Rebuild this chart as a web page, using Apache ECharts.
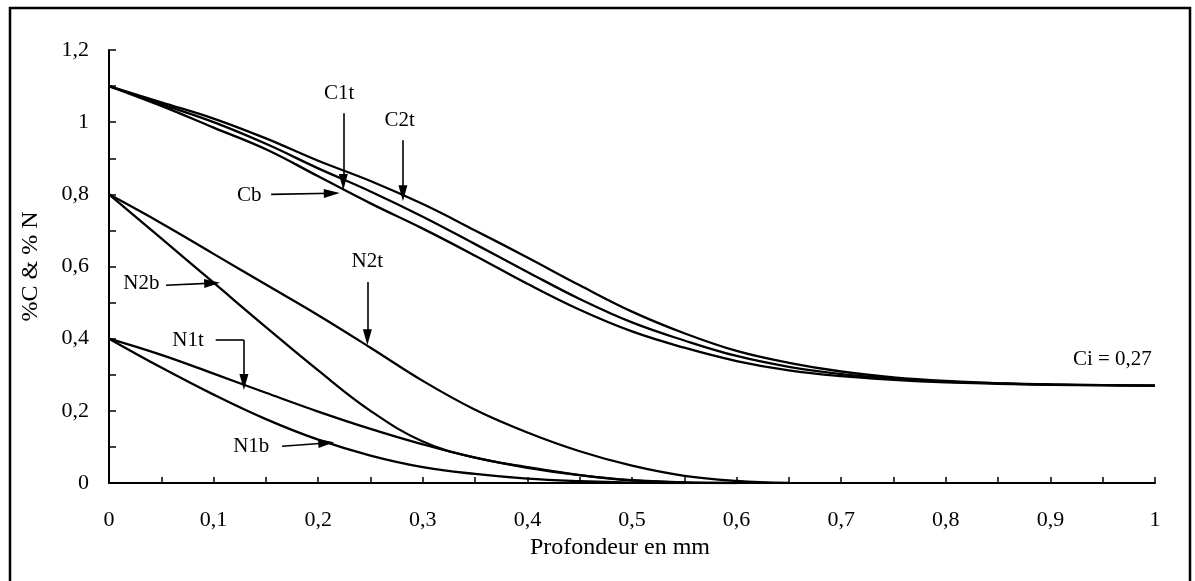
<!DOCTYPE html>
<html>
<head>
<meta charset="utf-8">
<script src="https://cdn.jsdelivr.net/npm/echarts@6/dist/echarts.min.js"></script>
<style>
  html, body { margin: 0; padding: 0; background: #fff; }
  #chart { width: 1195px; height: 581px; }
</style>
</head>
<body>
<div id="chart"></div>
<script>
// profondeur (mm)
const depth = [0, 0.05, 0.1, 0.15, 0.2, 0.25, 0.3, 0.35, 0.4, 0.45, 0.5,
  0.55, 0.6, 0.65, 0.7, 0.75, 0.8, 0.85, 0.9, 0.95, 1];

// carbone
const c2t = [1.1, 1.055, 1.01, 0.955, 0.893, 0.837, 0.773, 0.7, 0.625, 0.548, 0.475,
  0.415, 0.366, 0.333, 0.309, 0.293, 0.283, 0.277, 0.273, 0.271, 0.27];
const c1t = [1.1, 1.05, 1.0, 0.94, 0.872, 0.808, 0.738, 0.662, 0.585, 0.51, 0.445,
  0.395, 0.352, 0.322, 0.302, 0.29, 0.281, 0.276, 0.273, 0.271, 0.27];
const cb = [1.1, 1.045, 0.985, 0.925, 0.85, 0.775, 0.705, 0.63, 0.552, 0.48, 0.42,
  0.375, 0.338, 0.312, 0.296, 0.286, 0.279, 0.275, 0.272, 0.271, 0.27];

// azote
const n2t = [0.8, 0.72, 0.635, 0.55, 0.465, 0.375, 0.283, 0.203, 0.14, 0.088, 0.048,
  0.02, 0.006, 0, null, null, null, null, null, null, null];
const n2b = [0.8, 0.678, 0.555, 0.432, 0.312, 0.2, 0.115, 0.07, 0.044, 0.022, 0.007,
  0.001, 0, null, null, null, null, null, null, null, null];
const n1t = [0.4, 0.355, 0.303, 0.25, 0.198, 0.15, 0.107, 0.07, 0.042, 0.022, 0.008,
  0.002, 0, null, null, null, null, null, null, null, null];
const n1b = [0.4, 0.32, 0.245, 0.177, 0.12, 0.076, 0.044, 0.025, 0.012, 0.005, 0.001,
  0, null, null, null, null, null, null, null, null, null];

const xTicks = ['0', '0,1', '0,2', '0,3', '0,4', '0,5', '0,6', '0,7', '0,8', '0,9', '1'];
const yTicks = ['0', '0,2', '0,4', '0,6', '0,8', '1', '1,2'];

// étiquettes des courbes (position en unités des axes)
const labels = [
  { name: 'C1t', value: [0.22, 1.08] },
  { name: 'C2t', value: [0.278, 1.006] },
  { name: 'Cb', value: [0.134, 0.798] },
  { name: 'N2b', value: [0.031, 0.554] },
  { name: 'N2t', value: [0.247, 0.615] },
  { name: 'N1t', value: [0.0756, 0.396] },
  { name: 'N1b', value: [0.136, 0.102] }
];
// flèches [départ, pointe]
const arrows = [
  [[0.224, 1.025], [0.224, 0.834]],
  [[0.281, 0.95], [0.281, 0.803]],
  [[0.155, 0.8], [0.213, 0.803]],
  [[0.0545, 0.548], [0.0986, 0.554]],
  [[0.247, 0.557], [0.247, 0.404]],
  [[0.129, 0.396], [0.129, 0.28]],
  [[0.1655, 0.102], [0.2077, 0.111]]
];
const n1tLeader = [[0.102, 0.396], [0.129, 0.396]];

const FONT = 'Liberation Serif';

const pairs = arr => depth.map((d, i) => [d, arr[i]]);

const curve = (name, arr) => ({
  name: name,
  type: 'line',
  data: pairs(arr),
  smooth: 0.4,
  showSymbol: false,
  silent: true,
  lineStyle: { color: '#000', width: 2.3 }
});

const arrowLines = arrows.map(a => [
  { coord: a[0], symbol: 'none' },
  { coord: a[1], symbol: 'triangle', symbolSize: [9, 16] }
]);
arrowLines.push([
  { coord: n1tLeader[0], symbol: 'none' },
  { coord: n1tLeader[1], symbol: 'none' }
]);

const myChart = echarts.init(document.getElementById('chart'));
const option = {
  animation: false,
  backgroundColor: '#fff',
  textStyle: { fontFamily: FONT, color: '#000' },
  grid: { left: 109, right: 40, top: 50, bottom: 98 },
  graphic: [
    {
      type: 'rect',
      shape: { x: 10, y: 8, width: 1180, height: 620 },
      style: { fill: 'none', stroke: '#000', lineWidth: 2.5 }
    }
  ],
  xAxis: {
    type: 'value',
    min: 0,
    max: 1,
    interval: 0.1,
    name: 'Profondeur en mm',
    nameLocation: 'middle',
    nameGap: 47,
    nameTextStyle: { fontFamily: FONT, fontSize: 24, color: '#000', padding: [0, 24, 0, 0] },
    axisLine: { lineStyle: { color: '#000', width: 2 } },
    axisTick: { inside: true, length: 6, lineStyle: { color: '#000', width: 1.5 } },
    minorTick: { show: true, splitNumber: 2, length: 6, lineStyle: { color: '#000', width: 1.5 } },
    splitLine: { show: false },
    axisLabel: {
      fontFamily: FONT,
      fontSize: 22,
      color: '#000',
      margin: 26,
      formatter: v => xTicks[Math.round(v * 10)]
    }
  },
  yAxis: {
    type: 'value',
    min: 0,
    max: 1.2,
    interval: 0.2,
    name: '%C & % N',
    nameLocation: 'middle',
    nameGap: 66,
    nameTextStyle: { fontFamily: FONT, fontSize: 24, color: '#000' },
    axisLine: { show: true, lineStyle: { color: '#000', width: 2 } },
    axisTick: { show: true, inside: true, length: 7, lineStyle: { color: '#000', width: 1.5 } },
    minorTick: { show: true, splitNumber: 2, length: 7, lineStyle: { color: '#000', width: 1.5 } },
    splitLine: { show: false },
    axisLabel: {
      fontFamily: FONT,
      fontSize: 22,
      color: '#000',
      margin: 20,
      formatter: v => yTicks[Math.round(v * 5)]
    }
  },
  series: [
    curve('C2t', c2t),
    curve('C1t', c1t),
    curve('Cb', cb),
    curve('N2t', n2t),
    curve('N2b', n2b),
    curve('N1t', n1t),
    curve('N1b', n1b),
    {
      name: 'labels',
      type: 'scatter',
      data: labels,
      symbolSize: 0,
      silent: true,
      itemStyle: { color: '#000', opacity: 1 },
      label: {
        show: true,
        position: 'inside',
        formatter: '{b}',
        fontFamily: FONT,
        fontSize: 21,
        color: '#000',
        opacity: 1,
        textBorderWidth: 0
      },
      markLine: {
        silent: true,
        animation: false,
        label: { show: false },
        lineStyle: { color: '#000', width: 1.6, type: 'solid', opacity: 1 },
        itemStyle: { color: '#000', opacity: 1 },
        data: arrowLines
      },
      markPoint: {
        silent: true,
        symbol: 'rect',
        symbolSize: 0,
        itemStyle: { color: '#000', opacity: 1 },
        label: {
          show: true,
          position: 'left',
          distance: 0,
          formatter: 'Ci = 0,27',
          fontFamily: FONT,
          fontSize: 21,
          color: '#000',
          opacity: 1,
          textBorderWidth: 0
        },
        data: [{ coord: [0.997, 0.341] }]
      }
    }
  ]
};
myChart.setOption(option);
window.addEventListener('resize', function () {
  myChart.resize();
});
</script>
</body>
</html>
